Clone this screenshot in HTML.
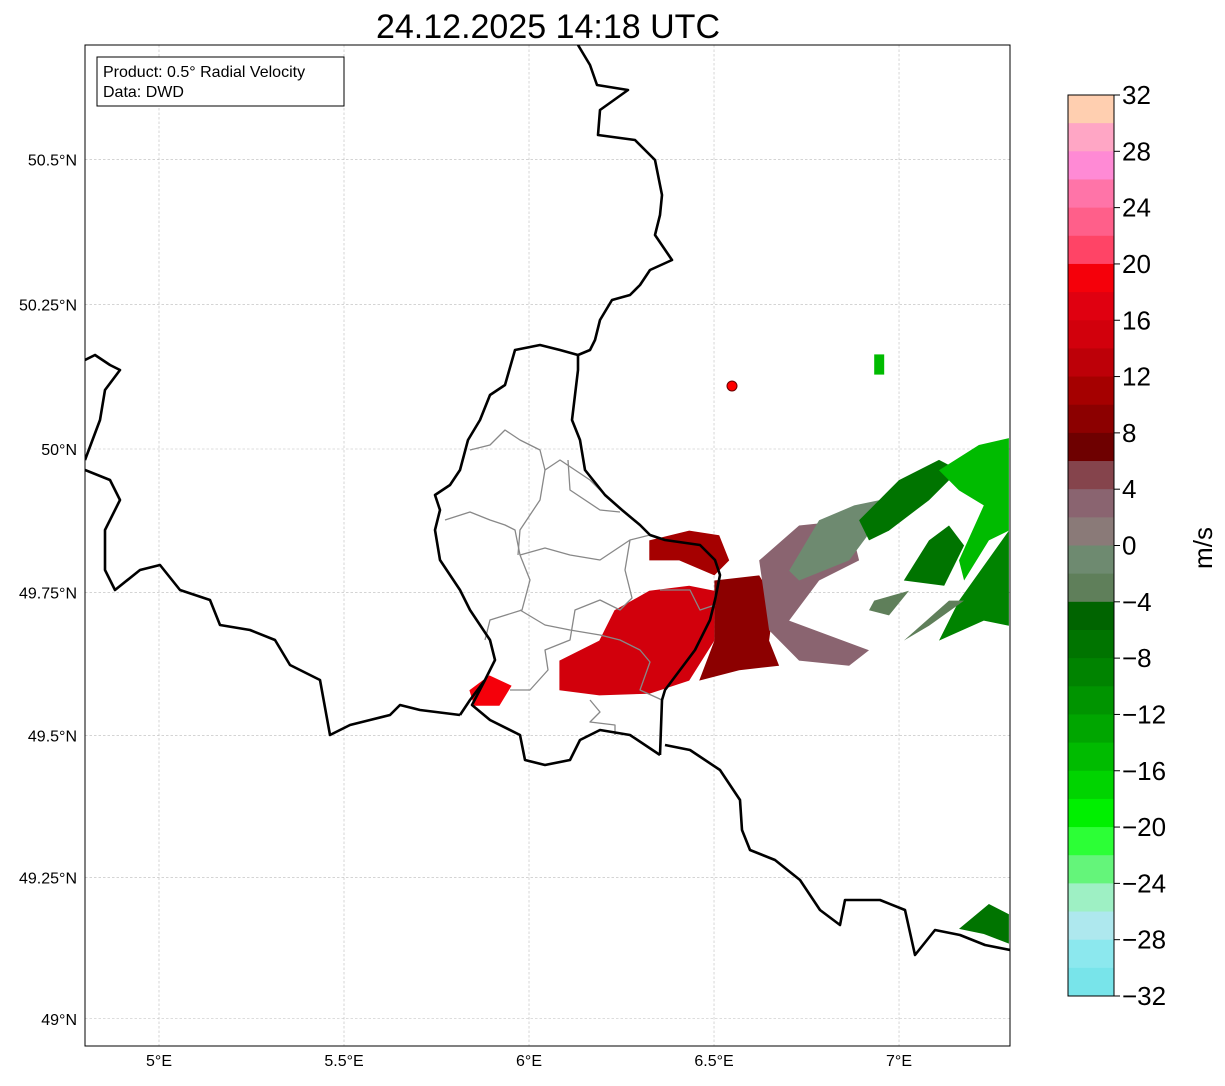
<!DOCTYPE html>
<html><head><meta charset="utf-8"><style>
body{margin:0;background:#fff;}
svg text{font-family:"Liberation Sans",sans-serif;}
</style></head><body>
<svg id="chart" width="1225" height="1081" viewBox="0 0 1225 1081" xmlns="http://www.w3.org/2000/svg">
<text x="548" y="38" font-size="34" text-anchor="middle">24.12.2025 14:18 UTC</text>
<defs><clipPath id="mapclip"><rect x="85" y="45" width="925" height="1001"/></clipPath></defs>
<g id="grid"></g>
<g id="echoes" clip-path="url(#mapclip)"></g>
<g clip-path="url(#mapclip)" fill="none" stroke-linejoin="round">
<g stroke="#888" stroke-width="1.3">
<polyline points="470,450 490,445 505,430 520,440 540,450 545,470 560,460 575,470 590,480 605,495"/>
<polyline points="445,520 470,512 490,520 505,525 515,530 520,555 545,548 570,555 600,560 630,540 650,535"/>
<polyline points="520,555 530,580 522,610 490,620 485,640"/>
<polyline points="545,470 540,500 520,530 518,555"/>
<polyline points="568,460 570,490 600,510 620,512"/>
<polyline points="630,540 625,570 632,598 620,610 600,600 575,610 570,640 545,650 548,670 530,690 510,690"/>
<polyline points="660,590 690,590 700,610 715,605"/>
<polyline points="520,610 545,625 570,630 600,635 620,640 640,650 650,662 640,690 662,700"/>
<polyline points="590,700 600,712 590,722 615,725 615,735"/>
</g>
<g stroke="#000" stroke-width="2.6">
<polyline points="578,45 590,65 597,85 628,90 600,110 598,135 635,140 655,160 662,195 660,215 655,235 672,260 650,270 640,285 630,295 612,300 600,320 595,340 590,350 578,355 578,370 572,420 580,440 585,470 605,495 622,510 640,525 650,535 665,540 700,545 715,560 720,575 715,600 710,620 695,650 680,670 665,690 662,700 660,755"/>
<polyline points="578,355 560,350 540,345 515,350 505,385 490,395 480,420 468,440 460,470 450,485 435,495 440,510 435,530 440,560 460,590 470,610 490,640 495,660 485,680 470,700 460,715"/>
<polyline points="485,680 472,705 490,720 520,735 525,760 545,765 570,760 580,740 600,730 630,735 660,755"/>
<polyline points="665,745 690,750 720,770 740,800 742,830 750,850 775,860 800,880 820,910 840,925 845,900 880,900 905,910 915,955 935,930 960,935 985,945 1010,950"/>
<polyline points="85,470 110,480 120,500 105,530 105,570 115,590 140,570 160,565 180,590 210,600 220,625 250,630 275,640 290,665 320,680 330,735 350,725 370,720 390,715 400,705 420,710 460,715"/>
<polyline points="85,360 95,355 110,365 120,370 105,390 100,420 85,460"/>
</g>
</g>
<circle cx="732" cy="386" r="5" fill="#f00" stroke="#600" stroke-width="1"/>
<rect x="85" y="45" width="925" height="1001" fill="none" stroke="#000" stroke-width="1"/>
<g>
<rect x="97" y="57" width="247" height="49" fill="#fff" stroke="#000" stroke-width="1"/>
<text x="103" y="77" font-size="16">Product: 0.5° Radial Velocity</text>
<text x="103" y="97" font-size="16">Data: DWD</text>
</g>
<g id="axes"></g>
<g id="cbar"></g>
<text transform="translate(1212,548) rotate(-90)" font-size="26" text-anchor="middle">m/s</text>
</svg>
<script>
const lonTicks=[5,5.5,6,6.5,7];
const lonLabels=["5°E","5.5°E","6°E","6.5°E","7°E"];
const latTicks=[49,49.25,49.5,49.75,50,50.25,50.5];
const latLabels=["49°N","49.25°N","49.5°N","49.75°N","50°N","50.25°N","50.5°N"];
const cbarColors=["#ffcfb0","#ffa6c5","#ff8ad5","#ff74a8","#ff5f8a","#ff4466","#f5000a","#e00010","#d2000c","#bd0008","#a50000","#8c0000","#6e0000","#85444c","#8a6470","#8a7a78","#6e8a70","#5f7f5a","#006400","#007400","#008300","#009400","#00a600","#00bb00","#00d400","#00f000","#2cff36","#64f57a","#9ef0c4","#aee8ee","#8ce8ee","#78e4ea"];
const cbarTicks=[-32,-28,-24,-20,-16,-12,-8,-4,0,4,8,12,16,20,24,28,32];
const echoValues=[15,19,9,11,3,-1,-3,-7,-7,-15,-9,-3,-7,-15];
const echoShapes=[
[[6.082,49.631],[6.190,49.666],[6.231,49.719],[6.325,49.753],[6.433,49.762],[6.501,49.753],[6.501,49.666],[6.433,49.596],[6.325,49.573],[6.190,49.570],[6.082,49.579]],
[[5.839,49.579],[5.893,49.605],[5.953,49.587],[5.920,49.552],[5.852,49.552]],
[[6.501,49.771],[6.622,49.780],[6.663,49.736],[6.649,49.666],[6.676,49.622],[6.568,49.614],[6.460,49.596],[6.501,49.666]],
[[6.325,49.841],[6.433,49.858],[6.514,49.850],[6.541,49.806],[6.501,49.780],[6.406,49.806],[6.325,49.806]],
[[6.622,49.806],[6.730,49.867],[6.865,49.876],[6.892,49.806],[6.784,49.771],[6.703,49.701],[6.919,49.649],[6.865,49.622],[6.730,49.631],[6.649,49.684]],
[[6.784,49.876],[6.879,49.902],[6.946,49.911],[6.946,49.876],[6.865,49.806],[6.730,49.771],[6.703,49.788]],
[[6.933,49.736],[7.027,49.753],[6.973,49.710],[6.919,49.719]],
[[6.892,49.876],[7.000,49.946],[7.108,49.981],[7.162,49.963],[7.081,49.911],[6.973,49.858],[6.919,49.841]],
[[7.013,49.771],[7.081,49.841],[7.135,49.867],[7.176,49.832],[7.122,49.762]],
[[7.108,49.963],[7.216,50.007],[7.297,50.019],[7.297,49.858],[7.243,49.841],[7.176,49.771],[7.162,49.806],[7.229,49.902],[7.162,49.928]],
[[7.162,49.736],[7.297,49.858],[7.297,49.692],[7.229,49.701],[7.108,49.666]],
[[7.013,49.666],[7.135,49.736],[7.176,49.736],[7.081,49.692]],
[[7.162,49.159],[7.243,49.203],[7.297,49.185],[7.297,49.133],[7.229,49.150]],
[[6.933,50.164],[6.960,50.164],[6.960,50.129],[6.933,50.129]]
];
const NS="http://www.w3.org/2000/svg";
const K=21200;
function merc(lat){return Math.log(Math.tan(Math.PI/4+lat*Math.PI/360));}
function xScale(lon){return 159+(lon-5)*K*Math.PI/180;}
function yScale(lat){return 449-(merc(lat)-merc(50))*K;}
function cbarY(v){return 95+(32-v)/64*901;}
function colorFor(v){let i=Math.floor((32-v)/2);i=Math.max(0,Math.min(31,i));return cbarColors[i];}
function mk(tag,attrs,parent){const e=document.createElementNS(NS,tag);for(const k in attrs)e.setAttribute(k,attrs[k]);parent.appendChild(e);return e;}
const grid=document.getElementById('grid'),axes=document.getElementById('axes'),ech=document.getElementById('echoes'),cb=document.getElementById('cbar');
lonTicks.forEach((lon,i)=>{const x=xScale(lon);
const l=mk('line',{x1:x,x2:x,y1:45,y2:1046,stroke:'#bbb','stroke-width':0.6,'stroke-dasharray':'2.5,2'},grid);


const t=mk('text',{x:x,y:1066,'font-size':16,'text-anchor':'middle'},axes);t.textContent=lonLabels[i];

});
latTicks.forEach((lat,i)=>{const y=yScale(lat);
const l=mk('line',{x1:85,x2:1010,y1:y,y2:y,stroke:'#bbb','stroke-width':0.6,'stroke-dasharray':'2.5,2'},grid);


const t=mk('text',{x:77,y:y+6,'font-size':16,'text-anchor':'end'},axes);t.textContent=latLabels[i];

});
echoShapes.forEach((sh,i)=>{const pts=sh.map(p=>xScale(p[0]).toFixed(1)+','+yScale(p[1]).toFixed(1)).join(' ');
const p=mk('polygon',{points:pts,fill:colorFor(echoValues[i])},ech);

});
cbarColors.forEach((c,i)=>{const v1=32-2*i,v2=v1-2;const y1=cbarY(v1),y2=cbarY(v2);
const r=mk('rect',{x:1068,y:y1,width:46,height:y2-y1+0.5,fill:c},cb);

});
mk('rect',{x:1068,y:95,width:46,height:901,fill:'none',stroke:'#000','stroke-width':1},cb);
cbarTicks.forEach(v=>{const y=cbarY(v);
mk('line',{x1:1114,x2:1120,y1:y,y2:y,stroke:'#000','stroke-width':1},cb);
const t=mk('text',{x:1122,y:y+9,'font-size':26},cb);t.textContent=(v<0?'\u2212'+(-v):String(v));

});
</script>
</body></html>
